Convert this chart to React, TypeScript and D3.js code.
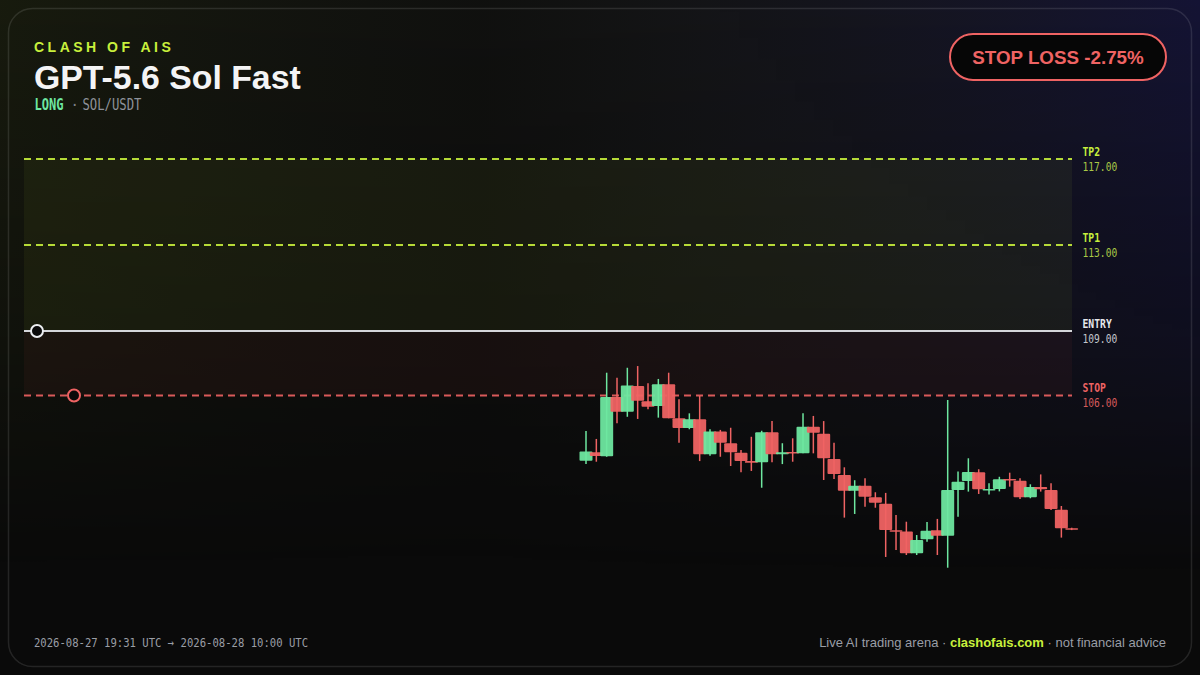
import React from "react";
import * as d3 from "d3";

// ---- data ----
const OPEN = [102.97, 103.36, 103.17, 105.93, 105.25, 106.44, 105.73, 105.51, 106.52, 104.94, 104.49, 104.89, 103.27, 104.32, 103.78, 103.34, 102.95, 102.89, 104.29, 103.27, 103.37, 103.31, 104.55, 104.22, 103.05, 102.30, 101.57, 101.80, 101.27, 100.97, 99.73, 99.67, 98.66, 99.31, 99.73, 99.48, 101.60, 102.02, 102.43, 101.59, 101.65, 102.12, 102.04, 101.27, 101.74, 101.60, 100.69, 99.82];
const HIGH = [104.35, 103.98, 107.06, 106.83, 107.29, 107.37, 106.57, 106.77, 107.06, 105.82, 105.17, 105.98, 104.43, 104.40, 104.50, 103.47, 104.08, 104.36, 104.81, 103.78, 104.01, 105.17, 105.05, 104.81, 103.80, 102.66, 102.06, 102.15, 101.50, 101.47, 100.44, 100.13, 99.51, 100.12, 100.26, 105.79, 102.46, 103.08, 102.57, 101.92, 102.22, 102.41, 102.15, 101.87, 102.33, 101.92, 100.86, 99.85];
const LOW = [102.81, 102.92, 103.15, 104.71, 105.01, 104.91, 105.36, 104.97, 104.94, 103.80, 104.43, 102.95, 103.20, 103.15, 102.72, 102.43, 102.49, 101.71, 102.89, 102.81, 102.92, 103.31, 103.31, 102.07, 102.12, 100.32, 100.49, 100.83, 100.78, 98.49, 98.81, 98.58, 98.58, 99.20, 98.58, 97.99, 100.36, 101.53, 101.42, 101.40, 101.54, 101.76, 101.19, 101.22, 101.53, 100.67, 99.39, 99.74];
const CLOSE = [103.39, 103.19, 105.93, 105.25, 106.46, 105.76, 105.48, 106.52, 104.94, 104.49, 104.89, 103.27, 104.32, 103.80, 103.36, 102.95, 102.87, 104.29, 103.27, 103.36, 103.31, 104.55, 104.27, 103.08, 102.35, 101.57, 101.80, 101.29, 101.01, 99.74, 99.67, 98.66, 99.28, 99.71, 99.48, 101.60, 101.99, 102.44, 101.64, 101.65, 102.10, 102.06, 101.27, 101.74, 101.64, 100.72, 99.82, 99.76];

const LEVEL_NAMES = ["TP2", "TP1", "ENTRY", "STOP"];
const LEVEL_PRICES = [117, 113, 109, 106];

const EYEBROW = "CLASH OF AIS";
const TITLE = "GPT-5.6 Sol Fast";
const SIDE = "LONG";
const PAIR = "SOL/USDT";
const BADGE = "STOP LOSS -2.75%";
const TIME_RANGE = "2026-08-27 19:31 UTC \u2192 2026-08-28 10:00 UTC";

// ---- style ----
const LIME = "#c8f03c";
const GREEN = "#6ee7a0";
const RED = "#ef6363";
const MONO = "'DejaVu Sans Mono', monospace";
const SANS = "'Liberation Sans', Arial, sans-serif";

const W = 1200;
const H = 675;
const PLOT_L = 24;
const PLOT_R = 1072;

export default function App() {
  const y = d3.scaleLinear().domain([106, 117]).range([395.5, 159]);
  const x = d3.scaleLinear().domain([0, OPEN.length - 1]).range([586, 1071.7]);
  const bodyW = 13;

  const levelColor = (i: number) => (i < 2 ? LIME : i === 2 ? "#e6e8ec" : RED);
  const valueColor = (i: number) => (i < 2 ? "#a9c846" : i === 2 ? "#c3c6cc" : "#d65b5b");

  return (
    <svg
      width={W}
      height={H}
      viewBox={`0 0 ${W} ${H}`}
      style={{ position: "absolute", left: 0, top: 0, display: "block" }}
    >
      <defs>
        <linearGradient id="hz" x1="0" y1="0" x2="1" y2="0">
          <stop offset="0" stopColor="rgb(190,230,60)" stopOpacity={0.075} />
          <stop offset="0.4" stopColor="rgb(130,140,110)" stopOpacity={0.05} />
          <stop offset="1" stopColor="rgb(60,55,220)" stopOpacity={0.2} />
        </linearGradient>
        <linearGradient id="vfade" x1="0" y1="0" x2="0" y2="1">
          <stop offset="0" stopColor="white" stopOpacity={1} />
          <stop offset="0.5" stopColor="white" stopOpacity={0.5} />
          <stop offset="0.85" stopColor="white" stopOpacity={0} />
        </linearGradient>
        <mask id="fadeMask">
          <rect x={0} y={0} width={W} height={H} fill="url(#vfade)" />
        </mask>
      </defs>

      {/* background */}
      <rect x={0} y={0} width={W} height={H} fill="#0a0a0a" />
      <rect x={0} y={0} width={W} height={H} fill="url(#hz)" mask="url(#fadeMask)" />
      <rect
        x={8.5}
        y={8.5}
        width={W - 17}
        height={H - 17}
        rx={24}
        fill="none"
        stroke="rgba(255,255,255,0.11)"
        strokeWidth={1.5}
      />

      {/* header */}
      <text x={34} y={51.7} fill={LIME} fontFamily={SANS} fontWeight={700} fontSize={14} letterSpacing={3.5}>
        {EYEBROW}
      </text>
      <text x={34} y={88.8} fill="#f4f4f5" fontFamily={SANS} fontWeight={700} fontSize={33.8}>
        {TITLE}
      </text>
      <text x={34.5} y={110} fill={GREEN} fontFamily={MONO} fontWeight={700} fontSize={15.5} textLength={29} lengthAdjust="spacingAndGlyphs">
        {SIDE}
      </text>
      <text x={70.5} y={110} fill="#7b7f87" fontFamily={MONO} fontSize={14}>
        ·
      </text>
      <text x={82.5} y={110} fill="#8e929a" fontFamily={MONO} fontSize={15.5} textLength={59} lengthAdjust="spacingAndGlyphs">
        {PAIR}
      </text>

      {/* badge */}
      <rect x={950} y={34} width={216} height={46} rx={23} fill="#060606" stroke={RED} strokeWidth={2} />
      <text x={1058} y={64} textAnchor="middle" fill={RED} fontFamily={SANS} fontWeight={700} fontSize={18.8}>
        {BADGE}
      </text>

      {/* zones */}
      <rect x={PLOT_L} y={y(LEVEL_PRICES[0])} width={PLOT_R - PLOT_L} height={y(LEVEL_PRICES[2]) - y(LEVEL_PRICES[0])} fill="rgba(200,240,60,0.055)" />
      <rect x={PLOT_L} y={y(LEVEL_PRICES[2])} width={PLOT_R - PLOT_L} height={y(LEVEL_PRICES[3]) - y(LEVEL_PRICES[2])} fill="rgba(240,80,80,0.05)" />

      {/* level lines */}
      {LEVEL_PRICES.map((p, i) => (
        <line
          key={"l" + i}
          x1={PLOT_L}
          x2={PLOT_R}
          y1={y(p)}
          y2={y(p)}
          stroke={i === 2 ? "#d4d6da" : i < 2 ? LIME : RED}
          strokeOpacity={i === 2 ? 1 : 0.9}
          strokeWidth={i === 2 ? 2 : 1.8}
          strokeDasharray={i === 2 ? undefined : "7 5"}
        />
      ))}

      {/* level labels */}
      {LEVEL_PRICES.map((p, i) => (
        <g key={"t" + i}>
          <text
            x={1082.5}
            y={y(p) - 3.4}
            fill={levelColor(i)}
            fontFamily={MONO}
            fontWeight={700}
            fontSize={12.8}
            textLength={LEVEL_NAMES[i].length * 5.85}
            lengthAdjust="spacingAndGlyphs"
          >
            {LEVEL_NAMES[i]}
          </text>
          <text
            x={1082.5}
            y={y(p) + 11.7}
            fill={valueColor(i)}
            fontFamily={MONO}
            fontSize={12.2}
            textLength={34.7}
            lengthAdjust="spacingAndGlyphs"
          >
            {d3.format(".2f")(p)}
          </text>
        </g>
      ))}

      {/* markers */}
      <circle cx={37} cy={y(LEVEL_PRICES[2])} r={6} fill="#0a0a0a" stroke="#eceef1" strokeWidth={2} />
      <circle cx={74} cy={y(LEVEL_PRICES[3])} r={6} fill="#0a0a0a" stroke={RED} strokeWidth={2} />

      {/* candles */}
      {OPEN.map((o, i) => {
        const c = CLOSE[i];
        const up = c >= o;
        const col = up ? GREEN : RED;
        const top = y(Math.max(o, c));
        const bot = y(Math.min(o, c));
        const cx = x(i);
        return (
          <g key={"c" + i}>
            <line x1={cx} x2={cx} y1={y(HIGH[i])} y2={y(LOW[i])} stroke={col} strokeWidth={1.5} />
            <rect x={cx - bodyW / 2} y={top} width={bodyW} height={Math.max(1.5, bot - top)} fill={col} fillOpacity={0.95} rx={1} />
          </g>
        );
      })}

      {/* footer */}
      <text x={34} y={647} fill="#9a9ea6" fontFamily={MONO} fontSize={13} textLength={274} lengthAdjust="spacingAndGlyphs">
        {TIME_RANGE}
      </text>
      <text x={1166} y={647} textAnchor="end" fill="#9a9ea6" fontFamily={SANS} fontSize={13}>
        <tspan>Live AI trading arena · </tspan>
        <tspan fill={LIME} fontWeight={700}>clashofais.com</tspan>
        <tspan> · not financial advice</tspan>
      </text>
    </svg>
  );
}
